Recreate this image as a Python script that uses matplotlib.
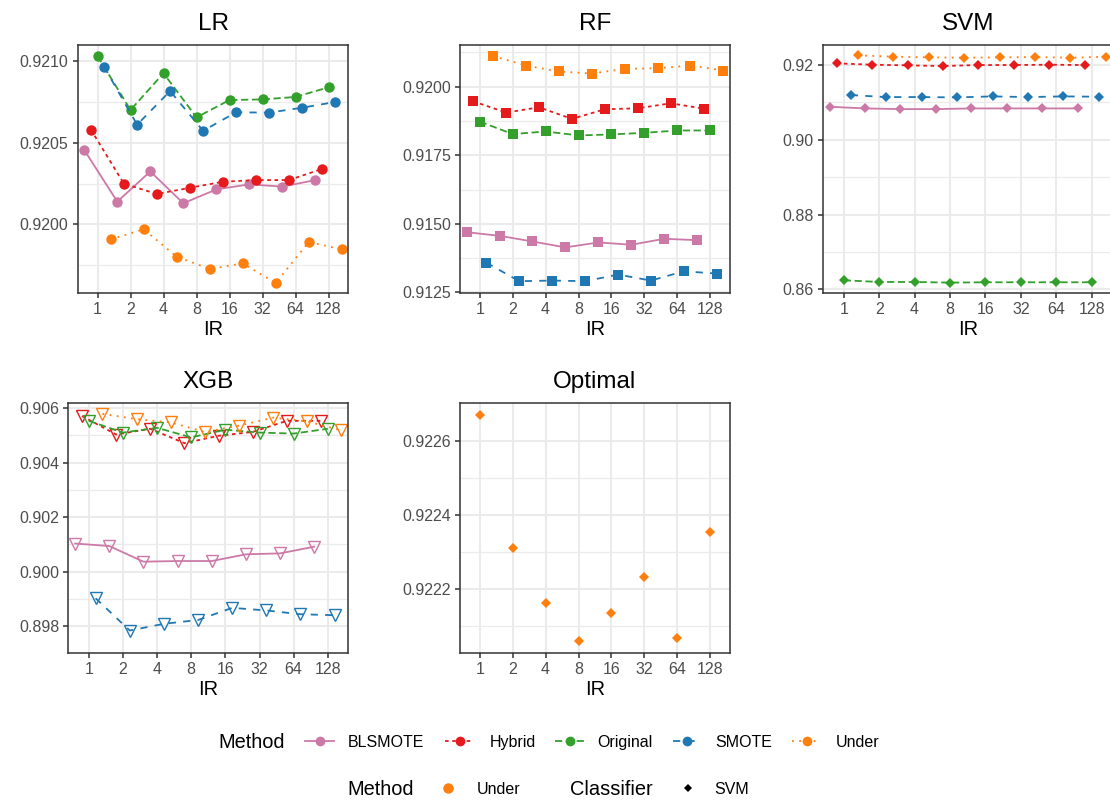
import matplotlib
matplotlib.use('Agg')
import matplotlib.pyplot as plt
from matplotlib.lines import Line2D

plt.rcParams['font.family'] = ['Liberation Sans', 'DejaVu Sans']

# ---------------- data ----------------
ir_labels = ['1', '2', '4', '8', '16', '32', '64', '128']
methods = ['BLSMOTE', 'Hybrid', 'Original', 'SMOTE', 'Under']

lr_blsmote = [0.920455, 0.920139, 0.920324, 0.920129, 0.920214, 0.920245, 0.920231, 0.920271]
lr_hybrid = [0.920580, 0.920249, 0.920186, 0.920224, 0.920261, 0.920271, 0.920271, 0.920339]
lr_original = [0.921031, 0.920700, 0.920925, 0.920655, 0.920761, 0.920765, 0.920780, 0.920839]
lr_smote = [0.920965, 0.920610, 0.920816, 0.920573, 0.920686, 0.920684, 0.920714, 0.920749]
lr_under = [0.919908, 0.919970, 0.919802, 0.919727, 0.919761, 0.919641, 0.919892, 0.919847]

rf_blsmote = [0.914698, 0.914565, 0.914360, 0.914143, 0.914324, 0.914240, 0.914457, 0.914408]
rf_hybrid = [0.919469, 0.919058, 0.919251, 0.918829, 0.919179, 0.919215, 0.919396, 0.919203]
rf_original = [0.918732, 0.918273, 0.918370, 0.918225, 0.918261, 0.918321, 0.918406, 0.918406]
rf_smote = [0.913587, 0.912911, 0.912935, 0.912911, 0.913152, 0.912935, 0.913273, 0.913188]
rf_under = [0.921123, 0.920773, 0.920556, 0.920483, 0.920652, 0.920676, 0.920773, 0.920592]

svm_blsmote = [0.90884, 0.90839, 0.90821, 0.90821, 0.90839, 0.90839, 0.90839, 0.90839]
svm_hybrid = [0.92045, 0.92009, 0.91991, 0.91973, 0.92000, 0.92000, 0.92009, 0.92000]
svm_original = [0.86241, 0.86196, 0.86196, 0.86179, 0.86188, 0.86188, 0.86188, 0.86188]
svm_smote = [0.91196, 0.91143, 0.91143, 0.91134, 0.91161, 0.91143, 0.91161, 0.91152]
svm_under = [0.92259, 0.92223, 0.92205, 0.92196, 0.92205, 0.92214, 0.92196, 0.92223]

xgb_blsmote = [0.901029, 0.900936, 0.900363, 0.900386, 0.900386, 0.900632, 0.900667, 0.900912]
xgb_hybrid = [0.905708, 0.905029, 0.905240, 0.904713, 0.904982, 0.905123, 0.905532, 0.905532]
xgb_original = [0.905532, 0.905100, 0.905275, 0.904924, 0.905205, 0.905100, 0.905064, 0.905240]
xgb_smote = [0.899018, 0.897836, 0.898082, 0.898222, 0.898667, 0.898573, 0.898433, 0.898398]
xgb_under = [0.905789, 0.905591, 0.905474, 0.905123, 0.905357, 0.905649, 0.905509, 0.905181]

optimal_under_svm = [0.922670, 0.922311, 0.922164, 0.922059, 0.922137, 0.922232, 0.922068, 0.922354]

# ---------------- style ----------------
colors = {'BLSMOTE': '#CC79A7', 'Hybrid': '#E41A1C', 'Original': '#33A02C',
          'SMOTE': '#1F78B4', 'Under': '#FF7F0E'}
linestyles = {'BLSMOTE': '-', 'Hybrid': (0, (2, 2)), 'Original': (0, (4, 2)),
              'SMOTE': (0, (4, 4)), 'Under': (0, (1, 3))}

W, H = 1110, 802
fig = plt.figure(figsize=(W / 100, H / 100), dpi=100)


def rect(l, r, t, b):
    return [l / W, 1 - b / H, (r - l) / W, (b - t) / H]


def fx(x):
    return x / W


def fy(y):
    return 1 - y / H


def style_ax(ax, title, ylim, yticks, yfmt, minor):
    ax.set_xlim(0.4, 8.6)
    ax.set_ylim(*ylim)
    ax.set_xticks(range(1, 9))
    ax.set_xticklabels(ir_labels)
    ax.set_yticks(yticks)
    ax.set_yticklabels([yfmt.format(v) for v in yticks])
    ax.set_yticks(minor, minor=True)
    ax.tick_params(axis='y', which='minor', length=0)
    ax.grid(True, which='major', color='#EBEBEB', lw=1.5)
    ax.grid(True, which='minor', axis='y', color='#EBEBEB', lw=0.9)
    ax.set_axisbelow(True)
    for s in ax.spines.values():
        s.set_color('#333333')
        s.set_linewidth(1.1)
    ax.tick_params(which='major', length=3.6, width=1.1, color='#333333',
                   labelsize=11.5, labelcolor='#4D4D4D', pad=3)
    ax.set_xlabel('IR', fontsize=14.4, labelpad=2, color='black')
    ax.set_title(title, fontsize=17.5, pad=11, color='black')


def draw_methods(ax, series, marker, ms, open_marker=False):
    offsets = [-0.4, -0.2, 0.0, 0.2, 0.4]
    for m, off, vals in zip(methods, offsets, series):
        xs = [i + 1 + off for i in range(len(vals))]
        kw = dict(color=colors[m], ls=linestyles[m], lw=1.3, marker=marker, ms=ms)
        if open_marker:
            kw.update(markerfacecolor='none', markeredgecolor=colors[m], mew=1.0)
        else:
            kw.update(markeredgewidth=0)
        ax.plot(xs, vals, **kw)


# LR
ax = fig.add_axes(rect(77.7, 348.3, 45, 293.3))
style_ax(ax, 'LR', (0.919578, 0.921098), [0.9200, 0.9205, 0.9210], '{:.4f}',
         [0.91975, 0.92025, 0.92075])
draw_methods(ax, [lr_blsmote, lr_hybrid, lr_original, lr_smote, lr_under], 'o', 7.5)

# RF
ax = fig.add_axes(rect(460, 730, 45, 293.3))
style_ax(ax, 'RF', (0.91247, 0.921522), [0.9125, 0.9150, 0.9175, 0.9200], '{:.4f}',
         [0.91375, 0.91625, 0.91875, 0.92125])
draw_methods(ax, [rf_blsmote, rf_hybrid, rf_original, rf_smote, rf_under], 's', 6.8)

# SVM
ax = fig.add_axes(rect(822.5, 1113, 45, 293.3))
style_ax(ax, 'SVM', (0.85893, 0.92536), [0.86, 0.88, 0.90, 0.92], '{:.2f}',
         [0.87, 0.89, 0.91])
draw_methods(ax, [svm_blsmote, svm_hybrid, svm_original, svm_smote, svm_under], 'D', 4.9)

# XGB
ax = fig.add_axes(rect(68.3, 348.3, 403.3, 653.3))
style_ax(ax, 'XGB', (0.897404, 0.906175), [0.898, 0.900, 0.902, 0.904, 0.906], '{:.3f}',
         [0.897, 0.899, 0.901, 0.903, 0.905])
draw_methods(ax, [xgb_blsmote, xgb_hybrid, xgb_original, xgb_smote, xgb_under], 'v', 9.0,
             open_marker=True)

# Optimal
ax = fig.add_axes(rect(460, 730, 403.3, 653.3))
style_ax(ax, 'Optimal', (0.922027, 0.922702), [0.9222, 0.9224, 0.9226], '{:.4f}',
         [0.9221, 0.9223, 0.9225])
ax.plot(range(1, 9), optimal_under_svm, ls='none', marker='D', ms=4.9,
        color=colors['Under'], markeredgewidth=0)

# ---------------- legends ----------------
fig.text(fx(218), fy(748), 'Method', fontsize=14.4, va='baseline', ha='left')
keys = [(305, 334, 348), (445, 474, 490), (555, 584, 597), (673, 701, 715), (792, 821, 836)]
for (x0, x1, xl), m in zip(keys, methods):
    fig.add_artist(Line2D([fx(x0), fx(x1)], [fy(741), fy(741)], transform=fig.transFigure,
                          color=colors[m], ls=linestyles[m], lw=1.3))
    fig.add_artist(Line2D([fx((x0 + x1) / 2)], [fy(741)], transform=fig.transFigure,
                          color=colors[m], ls='none', marker='o', ms=7, markeredgewidth=0))
    fig.text(fx(xl), fy(747), m, fontsize=11.5, va='baseline', ha='left')

fig.text(fx(347.6), fy(795), 'Method', fontsize=14.4, va='baseline', ha='left')
fig.add_artist(Line2D([fx(448)], [fy(788)], transform=fig.transFigure, color=colors['Under'],
                      ls='none', marker='o', ms=7.5, markeredgewidth=0))
fig.text(fx(477), fy(794), 'Under', fontsize=11.5, va='baseline', ha='left')
fig.text(fx(570), fy(795), 'Classifier', fontsize=14.4, va='baseline', ha='left')
fig.add_artist(Line2D([fx(688)], [fy(788)], transform=fig.transFigure, color='black',
                      ls='none', marker='D', ms=3.8, markeredgewidth=0))
fig.text(fx(714), fy(794), 'SVM', fontsize=11.5, va='baseline', ha='left')

fig.savefig('out.png', dpi=100)
